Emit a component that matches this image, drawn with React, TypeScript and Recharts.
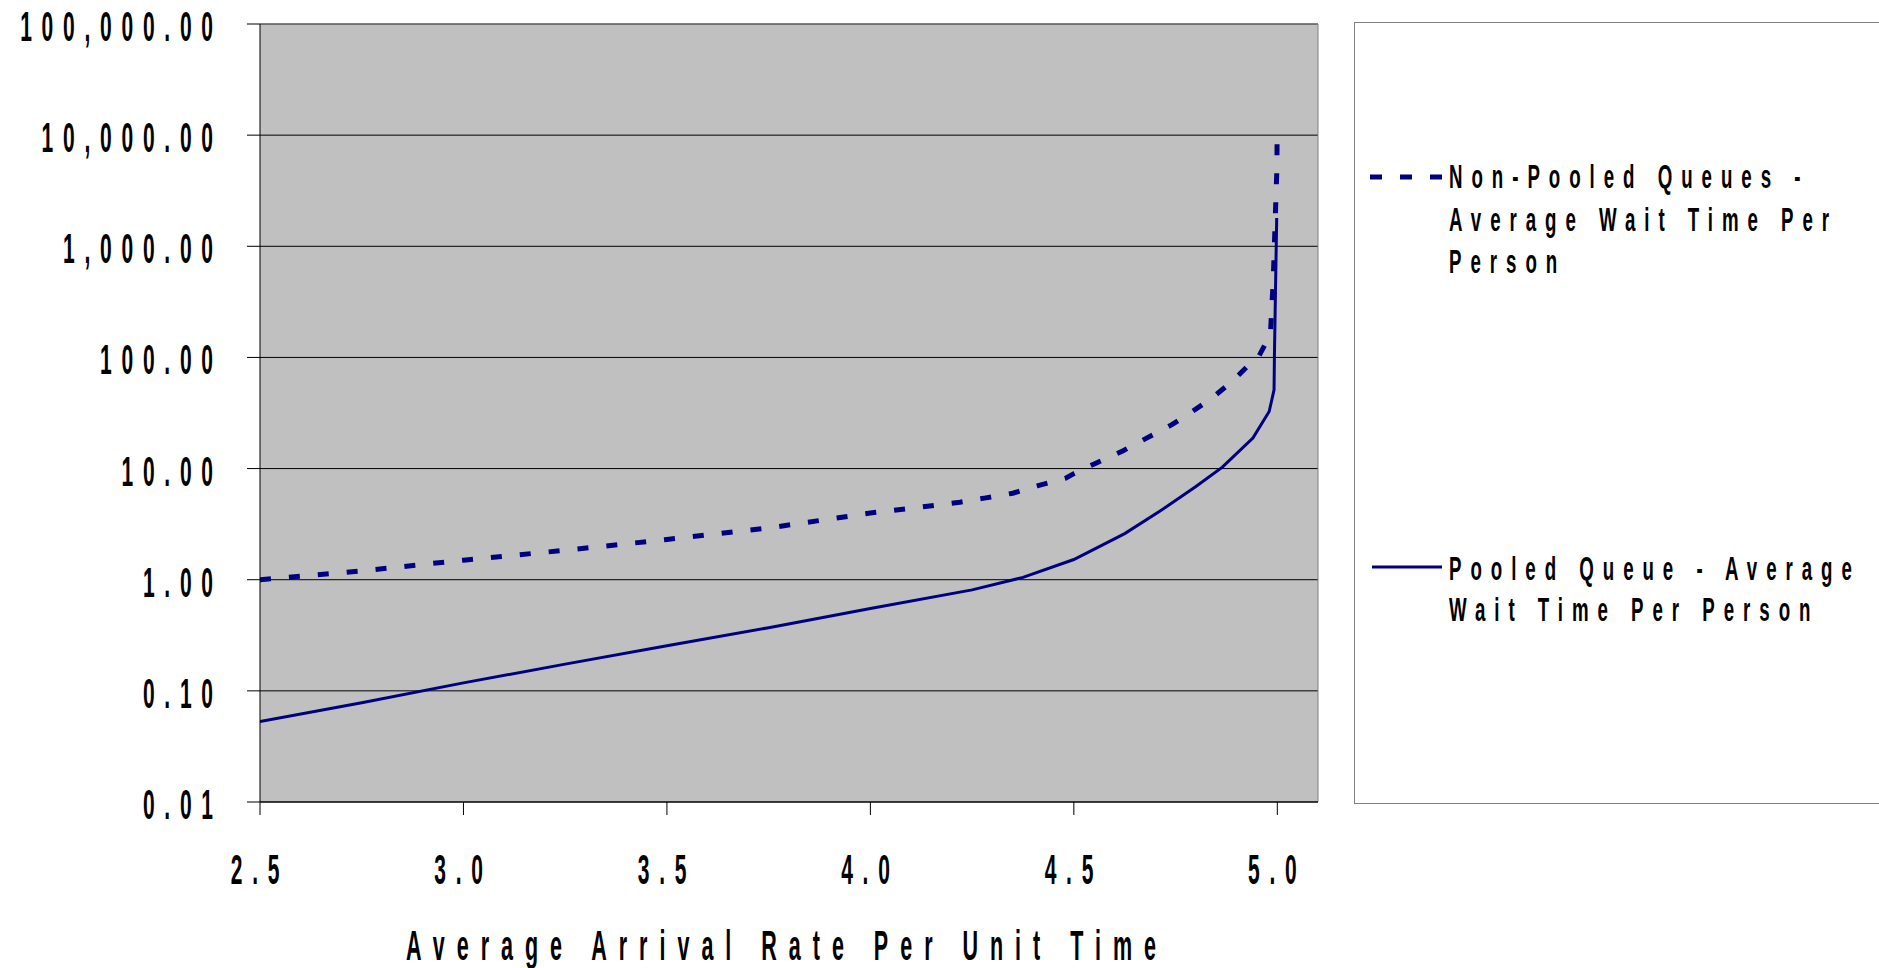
import React from 'react';
import { LineChart, Line, XAxis, YAxis, CartesianGrid, ReferenceLine, Legend, Label } from 'recharts';

// ---- data ----
const pooledX = [2.5, 2.75, 3.0, 3.25, 3.5, 3.75, 4.0, 4.25, 4.375, 4.5, 4.625, 4.71, 4.8, 4.865, 4.94, 4.98, 4.992, 4.993, 4.9985];
const pooledY = [0.053, 0.078, 0.118, 0.174, 0.255, 0.37, 0.55, 0.81, 1.05, 1.52, 2.6, 4.1, 6.9, 10.3, 18.8, 32.6, 51, 110, 1800];

const nonPooledX = [2.5, 2.75, 3.0, 3.25, 3.5, 3.75, 4.0, 4.14, 4.22, 4.28, 4.35, 4.41, 4.48, 4.5, 4.55, 4.62, 4.68, 4.74, 4.79, 4.84, 4.885, 4.935, 4.953, 4.983, 4.99, 4.999, 4.9995];
const nonPooledY = [1.0, 1.2, 1.5, 1.84, 2.3, 2.92, 3.98, 4.58, 4.98, 5.42, 6.0, 6.98, 8.2, 9.0, 11.0, 14.4, 18.9, 24.7, 32.4, 43.3, 59, 89, 100, 160, 499, 4999, 9999];

const xTicks = [2.5, 3.0, 3.5, 4.0, 4.5, 5.0];
const xTickLabels = ['2.5', '3.0', '3.5', '4.0', '4.5', '5.0'];
const yTicks = [0.01, 0.1, 1, 10, 100, 1000, 10000, 100000];
const yTickLabels = ['0.01', '0.10', '1.00', '10.00', '100.00', '1,000.00', '10,000.00', '100,000.00'];

const xTitle = 'Average Arrival Rate Per Unit Time';
const nonPooledName = 'Non-Pooled Queues - Average Wait Time Per Person';
const pooledName = 'Pooled Queue - Average Wait Time Per Person';
const nonPooledLegendLines = ['Non-Pooled Queues -', 'Average Wait Time Per', 'Person'];
const pooledLegendLines = ['Pooled Queue - Average', 'Wait Time Per Person'];

const pooledData = pooledX.map((x, i) => ({ x, y: pooledY[i] }));
const nonPooledData = nonPooledX.map((x, i) => ({ x, y: nonPooledY[i] }));

// ---- styling ----
const FONT = "'Liberation Sans', Arial, sans-serif";
const NAVY = '#000080';

type NTProps = { x: number; y: number; text: string; size: number; spacing: number; sx: number; anchor?: 'start' | 'middle' | 'end' };
const NarrowText = ({ x, y, text, size, spacing, sx, anchor = 'start' }: NTProps) => (
  <text
    transform={`translate(${x},${y}) scale(${sx},1)`}
    x={0}
    y={0}
    fontFamily={FONT}
    fontWeight="bold"
    fontSize={size}
    letterSpacing={spacing}
    textAnchor={anchor}
    fill="#000"
  >
    {text}
  </text>
);

const TICK_SIZE = 42;
const TICK_SP = 19.5;
const TICK_SX = 0.5;

const YTick = (props: any) => {
  const { x, y, payload } = props;
  const idx = yTicks.indexOf(payload.value);
  const label = idx >= 0 ? yTickLabels[idx] : String(payload.value);
  return <NarrowText x={x - 34 + TICK_SP * TICK_SX} y={y + 17} text={label} size={TICK_SIZE} spacing={TICK_SP} sx={TICK_SX} anchor="end" />;
};

const XTick = (props: any) => {
  const { x, y, payload } = props;
  const idx = xTicks.indexOf(payload.value);
  const label = idx >= 0 ? xTickLabels[idx] : String(payload.value);
  return <NarrowText x={x} y={y + 69} text={label} size={TICK_SIZE} spacing={TICK_SP} sx={TICK_SX} anchor="middle" />;
};

const XTitle = (props: any) => {
  const vb = props.viewBox || { x: 260, y: 802, width: 1058, height: 166 };
  return <NarrowText x={vb.x + vb.width / 2 - 2} y={vb.y + 158} text={xTitle} size={43} spacing={24} sx={0.5} anchor="middle" />;
};

const LEG_SIZE = 34;
const LEG_SP = 16.3;
const LEG_SX = 0.55;

const LegendBox = (props: any) => {
  const payload = props.payload || [];
  const dashedColor = payload[0]?.color || NAVY;
  const solidColor = payload[1]?.color || NAVY;
  return (
    <svg width={525} height={782} style={{ display: 'block' }}>
      <rect x={0.5} y={0.5} width={700} height={781} fill="#fff" stroke="#808080" strokeWidth={1} />
      <line x1={16} y1={155} x2={88} y2={155} stroke={dashedColor} strokeWidth={5} strokeDasharray="12 18" />
      {nonPooledLegendLines.map((t, i) => (
        <NarrowText key={t} x={95} y={166 + i * 42.5} text={t} size={LEG_SIZE} spacing={LEG_SP} sx={LEG_SX} />
      ))}
      <line x1={18} y1={545} x2={88} y2={545} stroke={solidColor} strokeWidth={3} />
      {pooledLegendLines.map((t, i) => (
        <NarrowText key={t} x={95} y={558 + i * 41} text={t} size={LEG_SIZE} spacing={LEG_SP} sx={LEG_SX} />
      ))}
    </svg>
  );
};

export default function App() {
  return (
    <div style={{ position: 'absolute', left: 0, top: 0, width: 1879, height: 968, overflow: 'hidden', background: '#fff' }}>
      <LineChart width={1879} height={968} margin={{ top: 24, right: 561, bottom: 0, left: 0 }}>
        <CartesianGrid horizontal vertical={false} fill="#C0C0C0" stroke="#000" strokeOpacity={1} />
        <XAxis
          type="number"
          dataKey="x"
          domain={[2.5, 5.1]}
          ticks={xTicks}
          allowDataOverflow
          height={166}
          tickSize={13}
          tickMargin={0}
          axisLine={{ stroke: '#000' }}
          tickLine={{ stroke: '#000' }}
          tick={<XTick />}
          interval={0}
        >
          <Label content={<XTitle />} />
        </XAxis>
        <YAxis
          type="number"
          scale="log"
          domain={[0.01, 100000]}
          ticks={yTicks}
          allowDataOverflow
          width={260}
          tickSize={13}
          tickMargin={0}
          axisLine={{ stroke: '#000' }}
          tickLine={{ stroke: '#000' }}
          tick={<YTick />}
          interval={0}
        />
        <ReferenceLine y={100000} stroke="#808080" strokeWidth={1} />
        <ReferenceLine x={5.1} stroke="#808080" strokeWidth={1} />
        <Line
          data={nonPooledData}
          dataKey="y"
          name={nonPooledName}
          type="linear"
          stroke={NAVY}
          strokeWidth={5}
          strokeDasharray="11 18"
          dot={false}
          activeDot={false}
          isAnimationActive={false}
        />
        <Line
          data={pooledData}
          dataKey="y"
          name={pooledName}
          type="linear"
          stroke={NAVY}
          strokeWidth={3}
          dot={false}
          activeDot={false}
          isAnimationActive={false}
        />
        <Legend
          layout="horizontal"
          verticalAlign="middle"
          align="center"
          content={<LegendBox />}
          wrapperStyle={{ position: 'absolute', left: 1354, top: 22, width: 525, height: 782, margin: 0, padding: 0 }}
        />
      </LineChart>
    </div>
  );
}
